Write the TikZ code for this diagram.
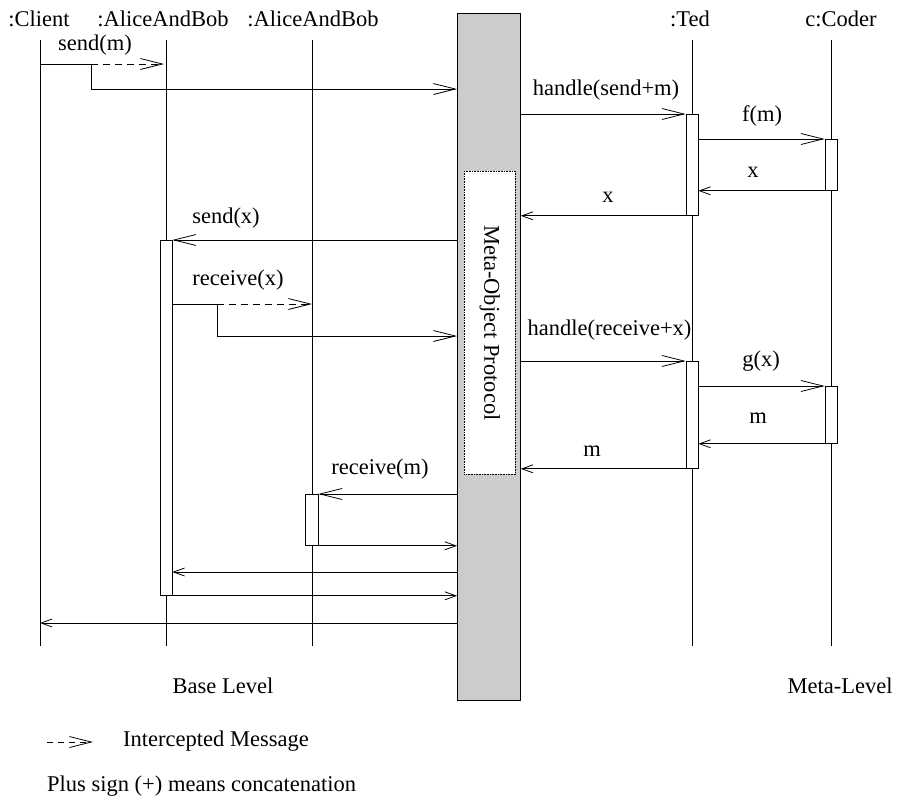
\documentclass[tikz,border=0pt]{standalone}
\usepackage{fontspec}
\setmainfont{Liberation Serif}
\usetikzlibrary{arrows.meta}
\begin{document}
\begin{tikzpicture}[x=1pt,y=-1pt,
  every node/.style={font=\fontsize{22.5}{27}\selectfont, inner sep=0pt},
  msg/.style={line width=0.8pt},
  bigtip/.style={-{Straight Barb[length=22pt,width=11pt,line width=0.8pt]}},
  smalltip/.style={-{Straight Barb[length=11pt,width=8pt,line width=0.8pt]}},
  intercept/.style={dash pattern=on 7pt off 5pt},
  lifeline/.style={line width=0.8pt},
  actbox/.style={draw, fill=white, line width=0.8pt, minimum width=12pt, anchor=north},
]
\useasboundingbox (0,0) rectangle (909,798);

% object heads
\node[anchor=base] (client) at (39,26) {:Client};
\node[anchor=base] (ab1) at (163,26) {:AliceAndBob};
\node[anchor=base] (ab2) at (313,26) {:AliceAndBob};
\node[anchor=base] (ted) at (690,26) {:Ted};
\node[anchor=base] (coder) at (841,26) {c:Coder};

% lifelines
\foreach \n/\x in {cl/40, a1/166, a2/312, td/692, cd/831} {
  \coordinate (\n-top) at (\x,40);
  \coordinate (\n-bot) at (\x,646);
  \draw[lifeline] (\n-top) -- (\n-bot);
}

% meta-object protocol column
\node[draw, fill=gray!40, line width=0.8pt, minimum width=63pt, minimum height=687pt, anchor=north west] (mop) at (457,13) {};
\node[draw, densely dotted, fill=white, line width=0.6pt, minimum width=51pt, minimum height=303pt, anchor=north west] (proto) at (464,171) {};
\node[rotate=-90] at (proto.center) {Meta-Object Protocol};

% activation boxes
\node[actbox, minimum height=101pt] (ted1) at (692,114) {};
\node[actbox, minimum height=51pt] (cod1) at (831,139) {};
\node[actbox, minimum height=355pt] (ali1) at (166,240) {};
\node[actbox, minimum height=107pt] (ted2) at (692,361) {};
\node[actbox, minimum height=57pt] (cod2) at (831,386) {};
\node[actbox, minimum height=51pt, minimum width=13pt] (ali2) at (311.5,494) {};

% send(m), intercepted and redirected
\coordinate (m1b) at (91,64);
\coordinate (m1c) at (164,64);
\coordinate (m1d) at (91,89);
\draw[msg] (m1b -| cl-top) -- (m1b);
\draw[msg, intercept, bigtip] (m1b) -- (m1c);
\draw[msg, bigtip] (m1b) -- (m1d) -- (m1d -| mop.west);
\node[anchor=base] at (95,50) {send(m)};

% first meta-level round
\draw[msg, bigtip] (mop.east |- ted1.north) -- (ted1.north west);
\node[anchor=base] at (606,95) {handle(send+m)};
\draw[msg, bigtip] (ted1.east |- cod1.north) -- (cod1.north west);
\node[anchor=base] at (762,121.5) {f(m)};
\draw[msg, smalltip] (cod1.south west) -- (ted1.east |- cod1.south);
\node[anchor=base] at (753,177) {x};
\draw[msg, smalltip] (ted1.south west) -- (mop.east |- ted1.south);
\node[anchor=base] at (608,202.5) {x};

% send(x)
\draw[msg, bigtip] (mop.west |- ali1.north) -- (ali1.north east);
\node[anchor=base] at (226,223) {send(x)};

% receive(x), intercepted and redirected
\coordinate (m2b) at (217,304);
\coordinate (m2c) at (217,336);
\draw[msg] (m2b -| ali1.east) -- (m2b);
\draw[msg, intercept, bigtip] (m2b) -- (m2b -| a2-top);
\draw[msg, bigtip] (m2b) -- (m2c) -- (m2c -| mop.west);
\node[anchor=base] at (238,285) {receive(x)};

% second meta-level round
\draw[msg, bigtip] (mop.east |- ted2.north) -- (ted2.north west);
\node[anchor=base] at (609.5,335) {handle(receive+x)};
\draw[msg, bigtip] (ted2.east |- cod2.north) -- (cod2.north west);
\node[anchor=base] at (761,366) {g(x)};
\draw[msg, smalltip] (cod2.south west) -- (ted2.east |- cod2.south);
\node[anchor=base] at (758,423) {m};
\draw[msg, smalltip] (ted2.south west) -- (mop.east |- ted2.south);
\node[anchor=base] at (592,456) {m};

% receive(m) and returns
\draw[msg, bigtip] (mop.west |- ali2.north) -- (ali2.north east);
\node[anchor=base] at (380,474) {receive(m)};
\draw[msg, smalltip] (ali2.south east) -- (mop.west |- ali2.south);
\coordinate (ret3) at (457,572);
\draw[msg, smalltip] (ret3 -| mop.west) -- (ret3 -| ali1.east);
\draw[msg, smalltip] (ali1.south east) -- (mop.west |- ali1.south);
\coordinate (ret5) at (457,623);
\draw[msg, smalltip] (ret5 -| mop.west) -- (ret5 -| cl-top);

% level captions
\node[anchor=base] (base) at (223,693) {Base Level};
\node[anchor=base] (meta) at (840,693) {Meta-Level};

% legend
\coordinate (lg1) at (47,742);
\coordinate (lg2) at (93,742);
\draw[msg, dash pattern=on 6pt off 5pt, bigtip] (lg1) -- (lg2);
\node[anchor=base west] (lgtext) at (123,746) {Intercepted Message};
\node[anchor=base west] (plus) at (47,791) {Plus sign (+) means concatenation};
\end{tikzpicture}
\end{document}
